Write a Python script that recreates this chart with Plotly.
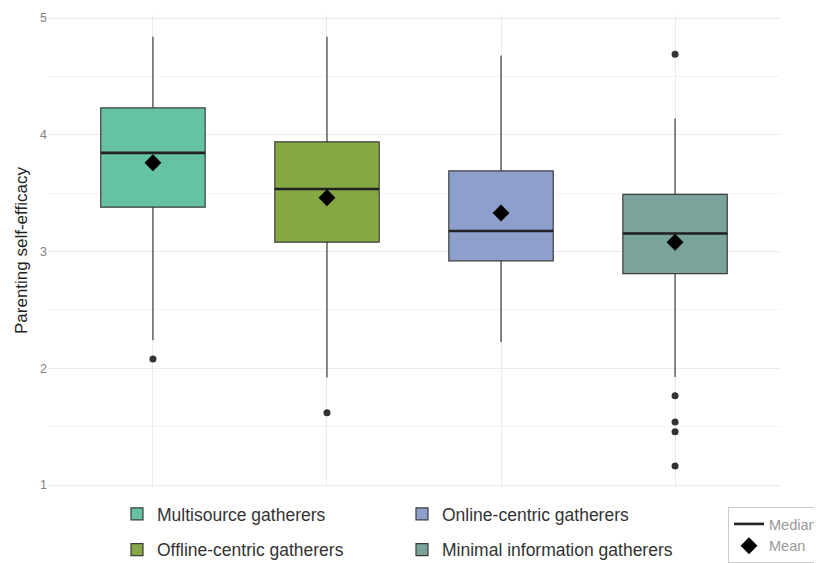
import plotly.graph_objects as go

categories = ["Multisource gatherers", "Offline-centric gatherers",
              "Online-centric gatherers", "Minimal information gatherers"]
colors = ["#66c2a5", "#85a844", "#8da0cb", "#7aa39c"]
q1 = [3.38, 3.08, 2.92, 2.81]
median = [3.845, 3.535, 3.176, 3.155]
q3 = [4.23, 3.94, 3.69, 3.49]
lower_fence = [2.24, 1.92, 2.225, 1.925]
upper_fence = [4.84, 4.84, 4.68, 4.14]
means = [3.76, 3.46, 3.33, 3.08]
outlier_group = [0, 1, 3, 3, 3, 3, 3]
outlier_vals = [2.08, 1.62, 4.69, 1.765, 1.54, 1.457, 1.163]
y_ticks = [1, 2, 3, 4, 5]

BOX_WIDTH = 0.6
FONT = "Liberation Sans, Arial, sans-serif"
legend_of = ["legend", "legend", "legend2", "legend2"]
W, H = 814, 555  # page body adds an 8px offset inside the 822x563 window

fig = go.Figure()
positions = list(range(len(categories)))

for i, cat in enumerate(categories):
    fig.add_trace(go.Box(
        x=[positions[i]], q1=[q1[i]], median=[median[i]], q3=[q3[i]],
        lowerfence=[lower_fence[i]], upperfence=[upper_fence[i]],
        name=cat, fillcolor=colors[i],
        line=dict(color="#3d3d3d", width=1.2),
        whiskerwidth=0, width=BOX_WIDTH, boxpoints=False,
        legend=legend_of[i], legendrank=i, legendgroup=cat,
        hoverinfo="skip",
    ))

# thick median lines
for i in range(len(categories)):
    fig.add_trace(go.Scatter(
        x=[positions[i] - BOX_WIDTH / 2, positions[i] + BOX_WIDTH / 2],
        y=[median[i], median[i]], mode="lines",
        line=dict(color="#222222", width=2.6),
        name="Median", legend="legend3", legendgroup="median",
        showlegend=(i == 0), hoverinfo="skip",
    ))

# outliers
fig.add_trace(go.Scatter(
    x=[positions[g] for g in outlier_group], y=outlier_vals, mode="markers",
    marker=dict(color="#333333", size=7), showlegend=False, hoverinfo="skip",
))

# means
fig.add_trace(go.Scatter(
    x=positions, y=means, mode="markers",
    marker=dict(symbol="diamond", color="black", size=13),
    name="Mean", legend="legend3", legendgroup="mean", hoverinfo="skip",
))

fig.add_annotation(
    text="Parenting self-efficacy", textangle=-90,
    xref="paper", yref="paper", x=(13 - 40) / 732, y=0.5,
    xanchor="center", yanchor="middle", showarrow=False,
    font=dict(size=17, color="#222222", family=FONT),
)

fig.update_layout(
    width=W, height=H,
    margin=dict(l=40, r=42, t=7, b=76, autoexpand=False),
    plot_bgcolor="white", paper_bgcolor="white",
    font=dict(family=FONT, color="#333333"),
    xaxis=dict(
        range=[-0.603, 3.603], tickvals=positions, showticklabels=False,
        showgrid=True, gridcolor="#ebebeb", gridwidth=1, zeroline=False,
        ticks="",
    ),
    yaxis=dict(
        range=[0.983, 5.026], tickvals=y_ticks, ticktext=[str(t) for t in y_ticks],
        tickfont=dict(size=12.5, color="#808080"), ticks="",
        showgrid=True, gridcolor="#ebebeb", gridwidth=1, zeroline=False,
        minor=dict(dtick=0.5, showgrid=True, gridcolor="#f3f3f3", gridwidth=1),
    ),
    legend=dict(
        xref="container", yref="container", x=109 / W, y=1 - 488 / H,
        xanchor="left", yanchor="top", orientation="v",
        font=dict(size=17.5, color="#333333"), tracegroupgap=10,
        bgcolor="rgba(0,0,0,0)",
    ),
    legend2=dict(
        xref="container", yref="container", x=394 / W, y=1 - 488 / H,
        xanchor="left", yanchor="top", orientation="v",
        font=dict(size=17.5, color="#333333"), tracegroupgap=10,
        bgcolor="rgba(0,0,0,0)",
    ),
    legend3=dict(
        xref="container", yref="container", x=720 / W, y=1 - 499 / H,
        xanchor="left", yanchor="top", orientation="v",
        font=dict(size=14.5, color="#999999"), tracegroupgap=0,
        bordercolor="#cccccc", borderwidth=1, bgcolor="white",
        itemwidth=30,
    ),
    showlegend=True,
)

fig.write_html("out.html")
